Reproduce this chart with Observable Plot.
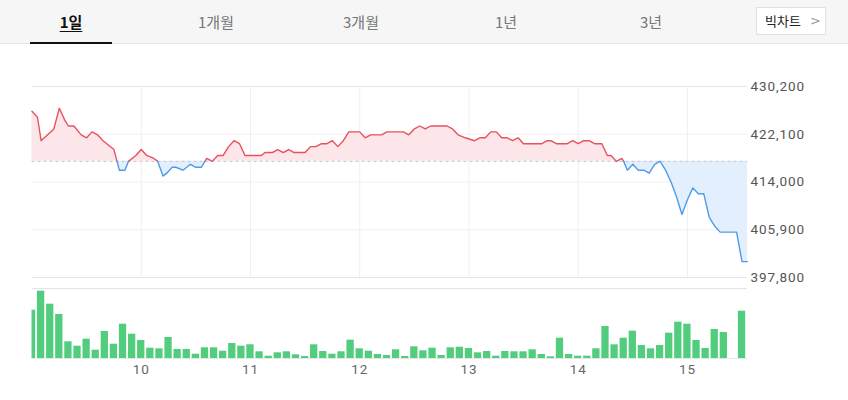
<!DOCTYPE html>
<html><head><meta charset="utf-8">
<script src="https://cdn.jsdelivr.net/npm/d3@7"></script>
<script src="https://cdn.jsdelivr.net/npm/@observablehq/plot@0.6"></script>
<style>
html,body{margin:0;padding:0;background:#fff}
body{width:848px;height:400px;overflow:hidden;font-family:"Noto Sans CJK KR","Noto Sans",sans-serif}
#tabs{position:relative;height:43px;background:#f6f6f6;border-bottom:1px solid #e6e6e6}
.tab{position:absolute;top:0;height:43px;line-height:43px;font-size:15px;color:#777;transform:translateX(-50%);white-space:nowrap}
.tab.active{color:#111;font-weight:bold;text-decoration:underline;text-underline-offset:3px}
#under{position:absolute;left:30px;width:82px;top:42px;height:2px;background:#111}
#big{position:absolute;left:756px;top:7px;width:68px;height:26px;border:1px solid #e0e0e0;background:#fff;font-size:13px;line-height:26px;color:#222;text-align:left;box-sizing:content-box;overflow:hidden}
#big span.t{position:absolute;left:8px}
#big span.c{position:absolute;left:53px;top:0;color:#999;font-size:13px;font-family:"DejaVu Sans",sans-serif}
.chart{display:block}
.chart text{letter-spacing:0.9px}
</style>
</head><body>
<div id="tabs"></div>
<div id="price" class="chart"></div>
<div id="vol" class="chart"></div>
<script>
// ---------- data ----------
const tabLabels = ["1일", "1개월", "3개월", "1년", "3년"];
const bigChartLabel = "빅차트";
const prevClose = 417500;
const yTicks = [397800, 405900, 414000, 422100, 430200];
const hourTicks = [60, 120, 180, 240, 300, 360];       // minutes since 09:00
const hourLabels = ["10", "11", "12", "13", "14", "15"];

// price: minutes since 09:00 and price
const priceTime = [0,3,5,12,15,18,20,23,27,30,33,36,39,45,48,51,53,55,57,60,63,67,69,72,74,77,79,83,87,90,93,96,99,102,105,108,111,114,117,126,128,132,135,138,141,144,150,153,156,159,162,165,168,171,174,180,183,186,192,195,204,207,210,213,216,219,228,231,234,238,243,246,249,252,255,258,261,264,267,270,280,283,285,288,294,297,300,303,306,309,313,316,318,321,324,325,327,330,333,336,339,342,345,348,351,354,357,360,363,366,369,372,375,378,387,390,393];
const priceValue = [426000,425000,421000,423000,426500,424500,423500,423500,422000,421500,422500,422000,421000,419500,416000,416000,417500,418000,418500,419500,418500,418000,417500,415000,415500,416500,416500,416000,417000,416500,416500,418000,417500,418500,418500,420000,421000,420500,418500,418500,419000,419000,419500,419000,419500,419000,419000,420000,420000,420500,420500,421000,420000,421000,422500,422500,421500,422000,422000,422500,422500,422000,423000,423500,423000,423500,423500,423000,422000,421500,421000,421500,421500,422500,422500,421500,421500,421000,421500,420500,420500,421000,421000,420500,420500,421000,420500,421000,421000,420500,420500,418500,418500,417500,418000,417500,416000,417000,416000,416000,415500,417000,417500,416000,414000,411500,408500,411000,413000,412000,412000,408000,406500,405500,405500,400500,400500];

// volume per 5-minute slot (relative units), slot start minutes since 09:00
const volumeTime = [0,5,10,15,20,25,30,35,40,45,50,55,60,65,70,75,80,85,90,95,100,105,110,115,120,125,130,135,140,145,150,155,160,165,170,175,180,185,190,195,200,205,210,215,220,225,230,235,240,245,250,255,260,265,270,275,280,285,290,295,300,305,310,315,320,325,330,335,340,345,350,355,360,365,370,375,380,385,390];
const volumeValue = [48.3,67.3,54.3,44,16.7,12.3,19.3,8.3,27,14.3,34.3,24.3,18,10.3,9.7,21,9,9,4.3,10.7,10.7,7.3,15,12.3,13.7,6.7,2.3,5.7,6.7,3.7,2,13.7,7,4.3,6.7,18.3,9.7,7.3,4,3,8.7,2,11.7,7.7,10.3,3,10.7,11.3,10,5.7,7,2.3,7,6.7,6.7,8.7,4,1.7,20.3,4,2.3,2.3,9.7,32,13.7,20.3,27.3,13,9.7,13,25.3,36.3,34.3,18,10,29,26,0,47.3];

// ---------- tabs ----------
const tabCenters = [71, 216, 361, 506, 651];
const tabs = document.getElementById("tabs");
tabLabels.forEach((l, i) => {
  const d = document.createElement("div");
  d.className = "tab" + (i === 0 ? " active" : "");
  d.style.left = tabCenters[i] + "px";
  d.textContent = l;
  tabs.appendChild(d);
});
const u = document.createElement("div"); u.id = "under"; tabs.appendChild(u);
const b = document.createElement("div"); b.id = "big";
b.innerHTML = `<span class="t">${bigChartLabel}</span><span class="c">&gt;</span>`;
tabs.appendChild(b);

// ---------- price chart ----------
const pts = priceTime.map((t, i) => ({t, v: priceValue[i]}));
const aug = [];
for (let i = 0; i < pts.length; i++) {
  aug.push(pts[i]);
  if (i < pts.length - 1) {
    const a = pts[i], c = pts[i + 1];
    if ((a.v - prevClose) * (c.v - prevClose) < 0) {
      const f = (prevClose - a.v) / (c.v - a.v);
      aug.push({t: a.t + f * (c.t - a.t), v: prevClose});
    }
  }
}
const xDomain = [0, 393];
const W = 848, ML = 31.5, MR = 101;
const fmt = d3.format(",");

const price = Plot.plot({
  width: W, height: 240,
  marginLeft: ML, marginRight: MR, marginTop: 42, marginBottom: 7,
  style: {fontFamily: "Roboto, sans-serif", fontSize: "13.5px", overflow: "visible", background: "transparent"},
  x: {domain: xDomain, axis: null},
  y: {domain: [yTicks[0], yTicks[yTicks.length - 1]], axis: null},
  marks: [
    Plot.ruleY(yTicks.slice(1, -1), {stroke: "#efeff2", strokeWidth: 1}),
    Plot.ruleY([yTicks[0], yTicks[yTicks.length - 1]], {stroke: "#e4e4ea", strokeWidth: 1.2}),
    Plot.ruleX(hourTicks, {stroke: "#efeff2", strokeWidth: 1}),
    Plot.areaY(aug, {x: "t", y1: () => prevClose, y2: d => Math.max(d.v, prevClose), fill: "#fde6e9", fillOpacity: 1}),
    Plot.areaY(aug, {x: "t", y1: () => prevClose, y2: d => Math.min(d.v, prevClose), fill: "#e3effc", fillOpacity: 1}),
    Plot.ruleY([prevClose], {stroke: "#c9c4cc", strokeDasharray: "3,3", strokeWidth: 1}),
    Plot.line(aug, {x: "t", y: d => d.v >= prevClose ? d.v : NaN, stroke: "#e8525d", strokeWidth: 1.4}),
    Plot.line(aug, {x: "t", y: d => d.v <= prevClose ? d.v : NaN, stroke: "#4d9be9", strokeWidth: 1.4}),
    Plot.text(yTicks, {x: () => xDomain[1], y: d => d, text: d => fmt(d), textAnchor: "start", dx: 3, fill: "#555", fontSize: 13.5})
  ]
});
document.getElementById("price").appendChild(price);

// ---------- volume chart ----------
const vol = volumeTime.map((t, i) => ({t, v: volumeValue[i]}));
const volMax = 70;
const volume = Plot.plot({
  width: W, height: 116,
  marginLeft: ML, marginRight: MR, marginTop: 4, marginBottom: 42,
  style: {fontFamily: "Roboto, sans-serif", fontSize: "13.5px", overflow: "visible", background: "transparent"},
  x: {domain: xDomain, axis: null},
  y: {domain: [0, volMax], axis: null},
  marks: [
    Plot.ruleY([volMax], {stroke: "#e4e4ea", strokeWidth: 1.2}),
    Plot.ruleY([0], {stroke: "#e6e6ea", strokeWidth: 1}),
    Plot.rectY(vol.filter(d => d.v > 0), {x1: d => Math.max(xDomain[0], d.t - 2), x2: d => d.t + 2, y1: () => 0, y2: "v", fill: "#52cd7e"}),
    Plot.text(hourTicks, {x: d => d, y: () => 0, dy: 11, text: (d, i) => hourLabels[i], fill: "#666", fontSize: 13.5, textAnchor: "middle"})
  ]
});
document.getElementById("vol").appendChild(volume);
</script>
</body></html>
